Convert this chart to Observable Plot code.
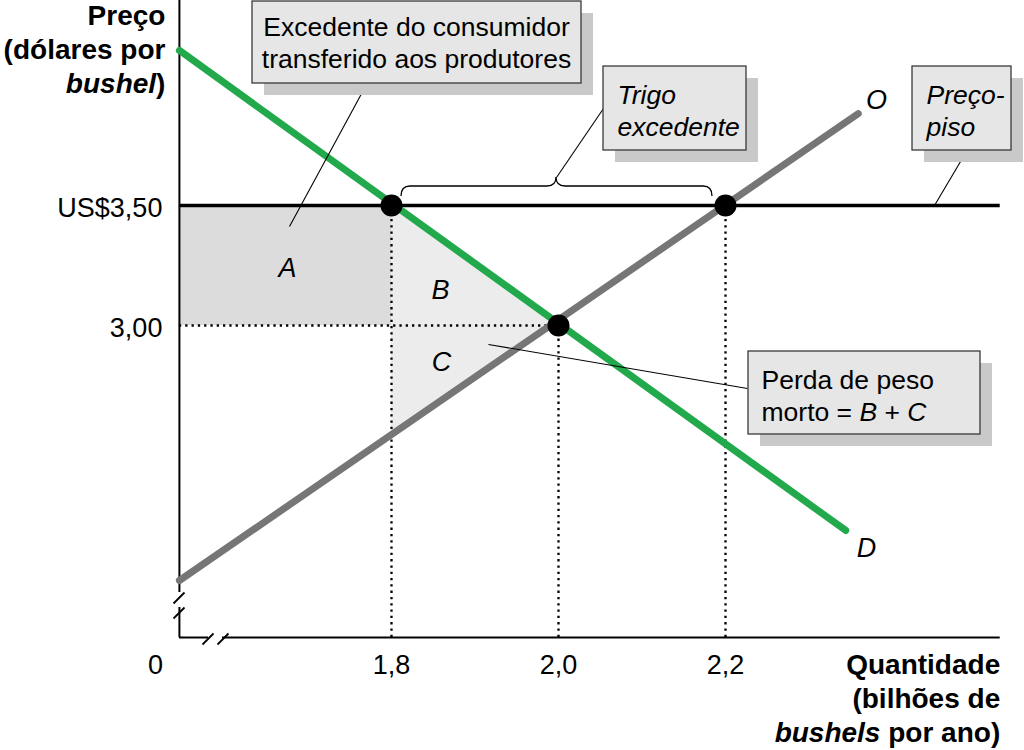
<!DOCTYPE html>
<html>
<head>
<meta charset="utf-8">
<script src="https://cdn.jsdelivr.net/npm/d3@7"></script>
<script src="https://cdn.jsdelivr.net/npm/@observablehq/plot@0.6"></script>
<style>
  html, body { margin: 0; padding: 0; background: #fff; }
  #chart svg { display: block; }
</style>
</head>
<body>
<div id="chart"></div>
<script>
// ---------- data ----------
const qtyTicks = [1.8, 2.0, 2.2];
const qtyLabels = ["1,8", "2,0", "2,2"];
const priceTicks = [3.0, 3.5];
const priceLabels = ["3,00", "US$3,50"];

const demandQ = [1.546, 2.344];
const demandP = [4.146, 2.146];
const supplyQ = [1.546, 2.359];
const supplyP = [1.9375, 3.883];

const floorPrice = 3.5;
const eqQ = 2.0, eqP = 3.0;
const floorQd = 1.8, floorQs = 2.2;

const qOrigin = 1.546, pOrigin = 1.70, pTop = 4.354, qEnd = 2.529;

// ---------- scales (same domain/range given to Plot) ----------
const xDomain = [1.8, 2.2], xRange = [391, 725];
const yDomain = [3.0, 3.5], yRange = [325, 205];
const xs = d3.scaleLinear().domain(xDomain).range(xRange);
const ys = d3.scaleLinear().domain(yDomain).range(yRange);
const X = p => xs.invert(p), Y = p => ys.invert(p);

const demand = demandQ.map((q, i) => ({q, p: demandP[i]}));
const supply = supplyQ.map((q, i) => ({q, p: supplyP[i]}));
const lerp = (pts, q) => pts[0].p + (q - pts[0].q) * (pts[1].p - pts[0].p) / (pts[1].q - pts[0].q);
const supplyAtQd = lerp(supply, floorQd);

const areaB = [{q: floorQd, lo: eqP, hi: floorPrice}, {q: eqQ, lo: eqP, hi: eqP}];
const areaC = [{q: floorQd, lo: supplyAtQd, hi: eqP}, {q: eqQ, lo: eqP, hi: eqP}];
const dots = [{q: floorQd, p: floorPrice}, {q: eqQ, p: eqP}, {q: floorQs, p: floorPrice}];

// callout boxes (pixel geometry converted to data units)
const boxes = [
  {x1: X(252), x2: X(581), y1: Y(1), y2: Y(83)},
  {x1: X(603), x2: X(746), y1: Y(66), y2: Y(150)},
  {x1: X(912), x2: X(1011), y1: Y(66), y2: Y(150)},
  {x1: X(748), x2: X(980), y1: Y(351), y2: Y(434)}
];
const leaders = [
  {x1: X(366), y1: Y(84), x2: X(289), y2: Y(226)},
  {x1: X(603), y1: Y(108), x2: X(556), y2: Y(177)},
  {x1: X(966), y1: Y(151), x2: X(934), y2: Y(205)},
  {x1: X(747), y1: Y(388), x2: X(488), y2: Y(344)}
];

const font = "'Liberation Sans', Arial, Helvetica, sans-serif";

const chart = Plot.plot({
  width: 1024,
  height: 750,
  margin: 0,
  x: {domain: xDomain, range: xRange, axis: null},
  y: {domain: yDomain, range: yRange, axis: null},
  style: {fontFamily: font, background: "#fff", color: "#000", overflow: "visible"},
  marks: [
    // shaded areas
    Plot.rect([0], {x1: qOrigin, x2: floorQd, y1: eqP, y2: floorPrice, fill: "#dcdcdd"}),
    Plot.areaY(areaB, {x: "q", y1: "lo", y2: "hi", fill: "#ececec"}),
    Plot.areaY(areaC, {x: "q", y1: "lo", y2: "hi", fill: "#ececec"}),
    // dotted guides
    Plot.ruleX([floorQd, floorQs], {x: d => d, y1: pOrigin, y2: floorPrice, stroke: "#000", strokeWidth: 2.3, strokeDasharray: "2.3,4"}),
    Plot.ruleX([eqQ], {x: d => d, y1: pOrigin, y2: eqP, stroke: "#000", strokeWidth: 2.3, strokeDasharray: "2.3,4"}),
    Plot.ruleY([eqP], {y: d => d, x1: qOrigin, x2: eqQ, stroke: "#000", strokeWidth: 2.3, strokeDasharray: "2.3,4"}),
    // axes with breaks
    Plot.ruleX([qOrigin], {x: d => d, y1: Y(592), y2: pTop, stroke: "#000", strokeWidth: 2}),
    Plot.ruleX([qOrigin], {x: d => d, y1: pOrigin, y2: Y(607), stroke: "#000", strokeWidth: 2}),
    Plot.ruleY([pOrigin], {y: d => d, x1: qOrigin, x2: X(208), stroke: "#000", strokeWidth: 2}),
    Plot.ruleY([pOrigin], {y: d => d, x1: X(222), x2: qEnd, stroke: "#000", strokeWidth: 2}),
    Plot.link([
      {x1: X(173), y1: Y(603), x2: X(184), y2: Y(592)},
      {x1: X(173), y1: Y(618), x2: X(184), y2: Y(607)},
      {x1: X(202), y1: Y(644), x2: X(213), y2: Y(633)},
      {x1: X(217), y1: Y(644), x2: X(228), y2: Y(633)}
    ], {x1: "x1", y1: "y1", x2: "x2", y2: "y2", stroke: "#000", strokeWidth: 1.8}),
    // price floor
    Plot.ruleY([floorPrice], {y: d => d, x1: qOrigin, x2: qEnd, stroke: "#000", strokeWidth: 3.5}),
    // supply & demand
    Plot.line(supply, {x: "q", y: "p", stroke: "#767676", strokeWidth: 7}),
    Plot.line(demand, {x: "q", y: "p", stroke: "#22a94b", strokeWidth: 7}),
    Plot.dot(dots, {x: "q", y: "p", r: 11, fill: "#000"}),
    // leaders
    Plot.link(leaders, {x1: "x1", y1: "y1", x2: "x2", y2: "y2", stroke: "#000", strokeWidth: 1.1}),
    // callout boxes
    Plot.rect(boxes, {x1: "x1", x2: "x2", y1: "y1", y2: "y2", dx: 12, dy: 12, fill: "#c9c9c9"}),
    Plot.rect(boxes, {x1: "x1", x2: "x2", y1: "y1", y2: "y2", fill: "#e6e6e6", stroke: "#3a3a3a", strokeWidth: 1.3}),
    Plot.text(["Excedente do consumidor\ntransferido aos produtores"], {x: X(416), y: Y(41), text: d => d, fontSize: 26.5, lineHeight: 1.22, textAnchor: "middle", lineAnchor: "middle", fill: "#000"}),
    Plot.text(["Trigo\nexcedente"], {x: X(617), y: Y(109), text: d => d, fontSize: 26.5, fontStyle: "italic", lineHeight: 1.22, textAnchor: "start", lineAnchor: "middle", fill: "#000"}),
    Plot.text(["Preço-\npiso"], {x: X(926), y: Y(109), text: d => d, fontSize: 26.5, fontStyle: "italic", lineHeight: 1.22, textAnchor: "start", lineAnchor: "middle", fill: "#000"}),
    Plot.text(["Perda de peso\nmorto = B + C"], {x: X(761), y: Y(394), text: d => d, fontSize: 26.5, lineHeight: 1.2, textAnchor: "start", lineAnchor: "middle", fill: "#000"}),
    // area letters and curve labels
    Plot.text(["A"], {x: X(287), y: Y(268), text: d => d, fontSize: 27, fontStyle: "italic"}),
    Plot.text(["B"], {x: X(440), y: Y(290), text: d => d, fontSize: 27, fontStyle: "italic"}),
    Plot.text(["C"], {x: X(441), y: Y(362), text: d => d, fontSize: 27, fontStyle: "italic"}),
    Plot.text(["O"], {x: X(876), y: Y(100), text: d => d, fontSize: 27, fontStyle: "italic"}),
    Plot.text(["D"], {x: X(866), y: Y(548), text: d => d, fontSize: 27, fontStyle: "italic"}),
    // tick labels
    Plot.text(qtyTicks, {x: d => d, y: pOrigin, dy: 28, text: (d, i) => qtyLabels[i], fontSize: 27}),
    Plot.text(["0"], {x: qOrigin, y: pOrigin, dx: -24, dy: 28, text: d => d, fontSize: 27}),
    Plot.text(priceTicks, {x: qOrigin, y: d => d, dx: -17, dy: 3, text: (d, i) => priceLabels[i], textAnchor: "end", fontSize: 27}),
    // axis titles
    Plot.text(["Preço\n(dólares por\nbushel)"], {x: qOrigin, y: pTop, dx: -14, dy: 0, text: d => d, textAnchor: "end", lineAnchor: "top", lineHeight: 1.22, fontSize: 28, fontWeight: "bold"}),
    Plot.text(["Quantidade\n(bilhões de\nbushels por ano)"], {x: qEnd, y: pOrigin, dy: 12, text: d => d, textAnchor: "end", lineAnchor: "top", lineHeight: 1.22, fontSize: 28, fontWeight: "bold"})
  ]
});

document.getElementById("chart").appendChild(chart);

// brace above the price floor, drawn with the same scales
const svg = d3.select(chart);
const bL = xs(floorQd) + 10, bR = xs(floorQs) - 13, bM = xs(eqQ) - 2;
const bY = ys(floorPrice) - 19, bEnd = ys(floorPrice) - 9, bTip = ys(floorPrice) - 28;
const r = 9;
const brace = `M${bL},${bEnd} Q${bL},${bY} ${bL + r},${bY} L${bM - r},${bY} Q${bM},${bY} ${bM},${bTip} Q${bM},${bY} ${bM + r},${bY} L${bR - r},${bY} Q${bR},${bY} ${bR},${bEnd}`;
svg.append("path").attr("d", brace).attr("fill", "none").attr("stroke", "#000").attr("stroke-width", 1.3);

// italic fragments inside text lines
const NS = "http://www.w3.org/2000/svg";
function styleLine(match, parts) {
  svg.selectAll("text, tspan").each(function () {
    if (this.childNodes.length === 1 && this.firstChild.nodeType === 3 && this.textContent === match) {
      this.textContent = "";
      for (const [txt, italic] of parts) {
        if (italic) {
          const t = document.createElementNS(NS, "tspan");
          t.setAttribute("font-style", "italic");
          t.textContent = txt;
          this.appendChild(t);
        } else {
          this.appendChild(document.createTextNode(txt));
        }
      }
    }
  });
}
styleLine("bushel)", [["bushel", true], [")", false]]);
styleLine("bushels por ano)", [["bushels", true], [" por ano)", false]]);
styleLine("morto = B + C", [["morto = ", false], ["B", true], [" + ", false], ["C", true]]);
</script>
</body>
</html>
